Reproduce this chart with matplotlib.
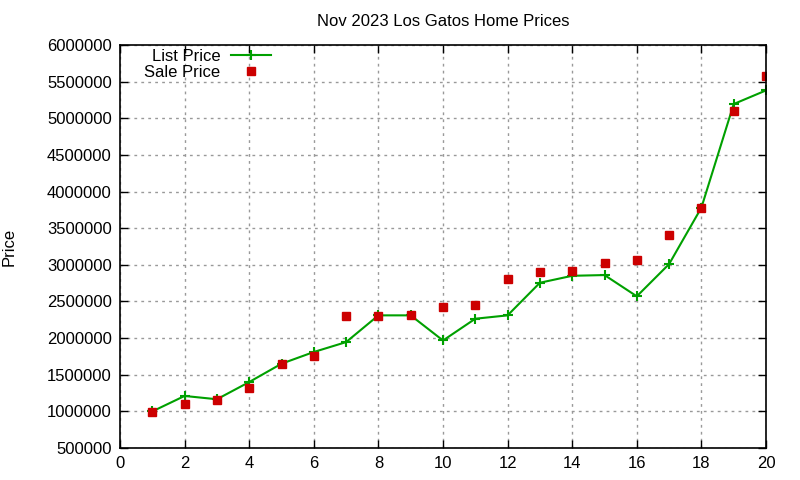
import matplotlib
matplotlib.use("Agg")
import matplotlib.pyplot as plt

plt.rcParams['font.family'] = ['Liberation Sans', 'DejaVu Sans']

# house index (1..20) sorted by list price
homes = list(range(1, 21))
list_price = [999000, 1210000, 1165000, 1400000, 1650000, 1810000, 1945000,
              2310000, 2310000, 1967000, 2264000, 2310000, 2755000, 2850000,
              2860000, 2570000, 3010000, 3780000, 5194000, 5380000]
sale_price = [986000, 1105000, 1150000, 1320000, 1640000, 1760000, 2295000,
              2295000, 2310000, 2418000, 2455000, 2810000, 2895000, 2910000,
              3030000, 3060000, 3400000, 3770000, 5100000, 5570000]

fig = plt.figure(figsize=(8, 4.8), dpi=100)
ax = fig.add_axes([0.15, 0.0667, 0.8075, 0.8396])

ax.plot(homes, list_price, color='#00a000', lw=1.5, marker='+', ms=7,
        mew=1.5, label='List Price')
ax.plot(homes, sale_price, ls='none', color='#cc0000', marker='s', ms=6,
        label='Sale Price')

ax.set_xlim(0, 20)
ax.set_ylim(500000, 6000000)
ax.set_xticks(range(0, 21, 2))
ax.set_yticks(range(500000, 6000001, 500000))
ax.ticklabel_format(style='plain', axis='y', useOffset=False)
ax.tick_params(direction='in', top=True, right=True, labelsize=12, length=6,
               width=1, pad=6)
ax.grid(True, color='#999999', ls=(0, (2, 3)), lw=1)
for s in ax.spines.values():
    s.set_linewidth(1.2)

ax.set_title('Nov 2023 Los Gatos Home Prices', fontsize=12, pad=14)
ax.set_ylabel('Price', fontsize=12, labelpad=22)

ax.legend(loc='upper left', frameon=False, markerfirst=False, fontsize=12,
          handlelength=2.4, handletextpad=0.6, borderaxespad=0.1,
          labelspacing=0.05, bbox_to_anchor=(0.025, 1.01))

fig.savefig('out.png', dpi=100)
